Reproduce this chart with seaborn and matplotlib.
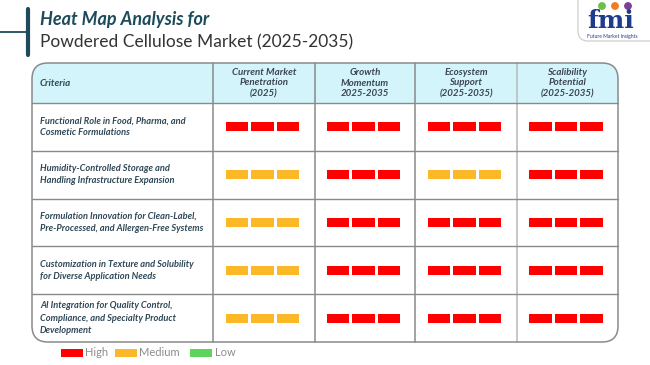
import numpy as np
import pandas as pd
import matplotlib
matplotlib.use("Agg")
import matplotlib.pyplot as plt
import seaborn as sns
from matplotlib.patches import FancyBboxPatch, Rectangle, Circle
from matplotlib.path import Path

# ---------------- datos ----------------
titulo_1 = "Heat Map Analysis for"
titulo_2 = "Powdered Cellulose Market (2025-2035)"

criterios = [
    "Functional Role in Food, Pharma, and\nCosmetic Formulations",
    "Humidity-Controlled Storage and\nHandling Infrastructure Expansion",
    "Formulation Innovation for Clean-Label,\nPre-Processed, and Allergen-Free Systems",
    "Customization in Texture and Solubility\nfor Diverse Application Needs",
    "AI Integration for Quality Control,\nCompliance, and Specialty Product\nDevelopment",
]
columnas = [
    "Current Market\nPenetration\n(2025)",
    "Growth\nMomentum\n2025-2035",
    "Ecosystem\nSupport\n(2025-2035)",
    "Scalibility\nPotential\n(2025-2035)",
]
niveles = [
    ["High", "High", "High", "High"],
    ["Medium", "High", "Medium", "High"],
    ["Medium", "High", "High", "High"],
    ["Medium", "High", "High", "High"],
    ["Medium", "High", "High", "High"],
]
leyenda = ["High", "Medium", "Low"]
colores = {"High": "#ff0000", "Medium": "#fdb827", "Low": "#5ed35e"}

# ---------------- layout (pixeles) ----------------
X0, X1 = 32, 618
Y0, YH = 63, 103
COL_X = [213, 315, 415, 517, 618]
ROW_H = 47.8
BLOQUE_W, BLOQUE_H, GAP = 22.5, 9.0, 3.0

TEXTO = "#2f4756"
FUENTE = ["Lato", "DejaVu Sans"]

sns.set_theme(style="white")
plt.rcParams["font.family"] = FUENTE

fig = plt.figure(figsize=(6.5, 3.65), dpi=100)
ax = fig.add_axes([0, 0, 1, 1])
ax.set_xlim(0, 650)
ax.set_ylim(365, 0)
ax.axis("off")

# titulo
ax.plot([0, 28], [32, 32], color="#1d4b5b", lw=1.3)
ax.plot([28, 28], [9, 55], color="#1d4b5b", lw=3)
ax.text(40, 19, titulo_1, fontsize=13, fontweight="bold", fontstyle="italic",
        color="#1d4b5b", va="center")
ax.text(40, 42, titulo_2, fontsize=12.5, color="#333333", va="center")

# logo fmi
logo = FancyBboxPatch((578, -10), 90, 51, boxstyle="round,pad=0,rounding_size=10",
                      fc="white", ec="#c8c8c8", lw=0.8)
ax.add_patch(logo)
ax.text(611, 21, "fmi", fontsize=18, fontweight="bold", color="#1e3c8c",
        ha="center", va="center", family="DejaVu Serif")
for cx, c in zip([602, 615, 628], ["#6cc04a", "#f47b20", "#7b3f98"]):
    ax.add_patch(Circle((cx, 6), 3.2, color=c))
ax.text(612, 36.5, "Future Market Insights", fontsize=3.6, color="#1e3c8c",
        ha="center", va="center")

# tabla
alto_total = ROW_H * len(criterios)
Y1 = YH + alto_total
fondo = FancyBboxPatch((X0, Y0), X1 - X0, Y1 - Y0,
                       boxstyle="round,pad=0,rounding_size=16",
                       fc="white", ec="none", zorder=1)
ax.add_patch(fondo)
cab = Rectangle((X0, Y0), X1 - X0, YH - Y0, fc="#d4f4fb", ec="none", zorder=1.5)
ax.add_patch(cab)
cab.set_clip_path(fondo)
marco = FancyBboxPatch((X0, Y0), X1 - X0, Y1 - Y0,
                       boxstyle="round,pad=0,rounding_size=16",
                       fc="none", ec="#8a8a8a", lw=1.1, zorder=3)
ax.add_patch(marco)

for j, x in enumerate(COL_X[:-1]):
    col = "#b8b8b8" if j == 3 else "#8a8a8a"
    ax.plot([x, x], [Y0, Y1], color=col, lw=1.1, zorder=2)
for i in range(len(criterios)):
    y = YH + i * ROW_H
    ax.plot([X0, X1], [y, y], color="#8a8a8a", lw=1, zorder=2)

ax.text(40, (Y0 + YH) / 2, "Criteria", fontsize=7, fontweight="bold",
        fontstyle="italic", color=TEXTO, va="center", zorder=4)
for j, nombre in enumerate(columnas):
    cx = (COL_X[j] + COL_X[j + 1]) / 2
    ax.text(cx, (Y0 + YH) / 2, nombre, fontsize=7, fontweight="bold",
            fontstyle="italic", color="#3b4650", ha="center", va="center",
            linespacing=1.25, zorder=4)
for i, crit in enumerate(criterios):
    cy = YH + (i + 0.5) * ROW_H
    ax.text(40, cy, crit, fontsize=6.7, fontweight="bold", fontstyle="italic",
            color=TEXTO, va="center", linespacing=1.45, zorder=4)

# bloques (3 por celda)
filas = []
for i, fila in enumerate(niveles):
    for j, nivel in enumerate(fila):
        cx = (COL_X[j] + COL_X[j + 1]) / 2 - 1.5
        for k in (-1, 0, 1):
            filas.append({"x": cx + k * (BLOQUE_W + GAP),
                          "y": YH + (i + 0.5) * ROW_H,
                          "nivel": nivel})
df = pd.DataFrame(filas)

rect = Path([(-1, -0.4), (1, -0.4), (1, 0.4), (-1, 0.4), (-1, -0.4)],
            [Path.MOVETO, Path.LINETO, Path.LINETO, Path.LINETO, Path.CLOSEPOLY])
ms = BLOQUE_W * 72 / fig.dpi
sns.scatterplot(data=df, x="x", y="y", hue="nivel", palette=colores,
                marker=rect, s=ms ** 2, linewidth=0, legend=False, ax=ax,
                zorder=5)
ax.set_xlim(0, 650)
ax.set_ylim(365, 0)
ax.set_xlabel("")
ax.set_ylabel("")

# leyenda
lx = [61, 115, 190]
for x, nombre in zip(lx, leyenda):
    ax.add_patch(Rectangle((x, 349), 22, 8, fc=colores[nombre], ec="none"))
    ax.text(x + 24.5, 353, nombre, fontsize=8, color="#8c8c8c", va="center")

fig.savefig("out.png", dpi=100)
